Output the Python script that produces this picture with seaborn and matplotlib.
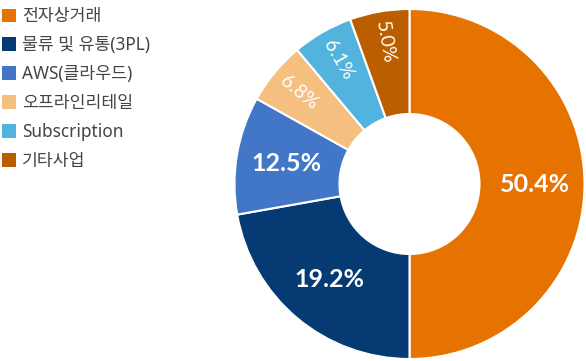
import numpy as np
import matplotlib
matplotlib.use("Agg")
import matplotlib.pyplot as plt
import matplotlib.patches as mpatches
import seaborn as sns

labels = ['전자상거래', '물류 및 유통(3PL)', 'AWS(클라우드)', '오프라인리테일', 'Subscription', '기타사업']
# slice sizes as drawn and the printed percentages
slice_sizes = [50.0, 22.2, 10.9, 5.8, 5.6, 5.5]
pct_labels = ['50.4%', '19.2%', '12.5%', '6.8%', '6.1%', '5.0%']
colors = ['#E67300', '#053A72', '#4277C8', '#F5BF80', '#52B4DE', '#BA5E00']

sns.set_theme(style="white")
plt.rcParams['font.family'] = ['Lato', 'Noto Sans CJK KR', 'DejaVu Sans']

fig = plt.figure(figsize=(5.86, 3.61), dpi=100)
ax = fig.add_axes([234.5 / 586, 2 / 361, 350 / 586, 350 / 361])

wedges, _ = ax.pie(slice_sizes, colors=colors, startangle=90, counterclock=False,
                   wedgeprops=dict(width=0.60, edgecolor='white', linewidth=1.5))
ax.set_xlim(-1, 1)
ax.set_ylim(-1, 1)
ax.set_aspect('equal')

for w, s, txt in zip(wedges, slice_sizes, pct_labels):
    mid = (w.theta1 + w.theta2) / 2
    rad = np.deg2rad(mid)
    if s >= 10:
        r, rot, fs, fw = 0.715, 0, 18, 'bold'
    else:
        r, rot, fs, fw = 0.82, mid - 180, 14, 'normal'
    ax.text(r * np.cos(rad), r * np.sin(rad), txt, ha='center', va='center',
            rotation=rot, rotation_mode='anchor', color='white', fontsize=fs,
            fontweight=fw)

handles = [mpatches.Patch(facecolor=c, edgecolor='none') for c in colors]
fig.legend(handles, labels, loc='upper left', bbox_to_anchor=(2 / 586, 1 - 7.5 / 361),
           frameon=False, handlelength=0.81, handleheight=0.86,
           handletextpad=0.35, labelspacing=0.63, borderaxespad=0, borderpad=0,
           labelcolor='#444444', prop={'family': ['Noto Sans', 'Noto Sans CJK KR'], 'size': 12.4})

fig.savefig('out.png', dpi=100)
